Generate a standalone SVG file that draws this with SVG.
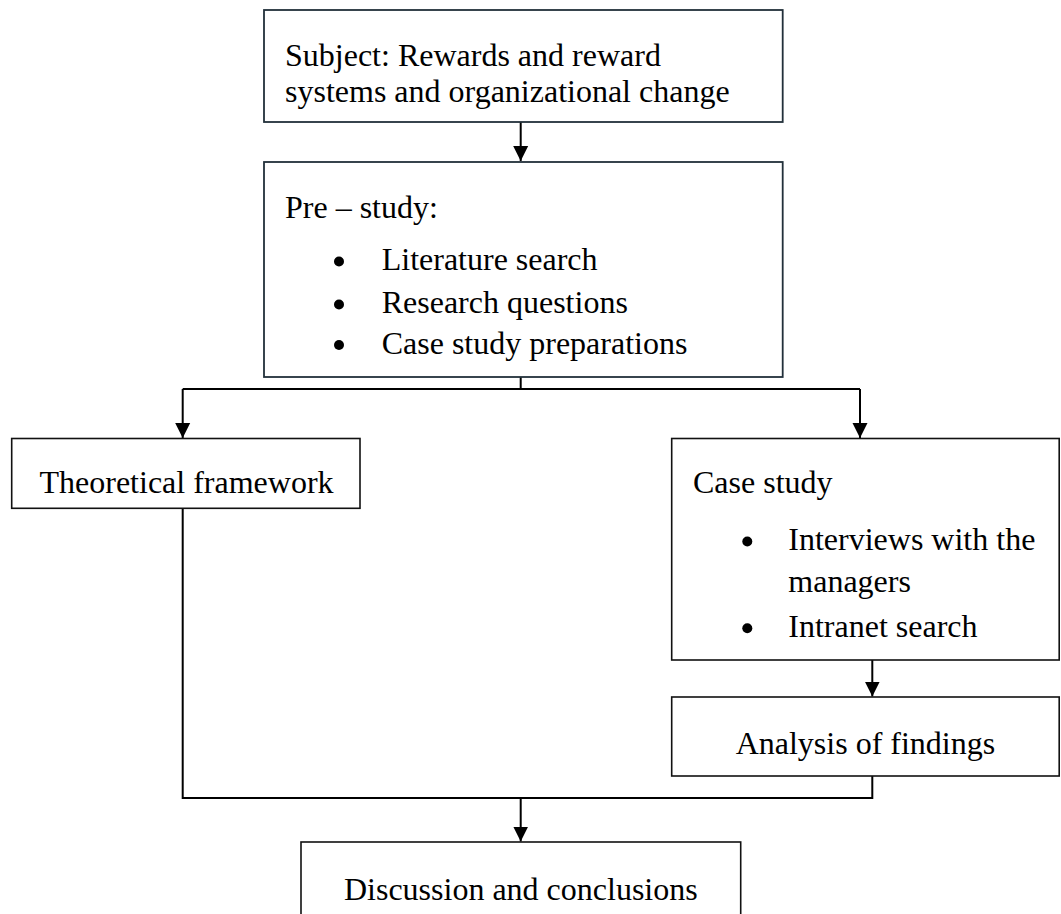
<svg xmlns="http://www.w3.org/2000/svg" width="1061" height="914" viewBox="0 0 1061 914">
<style>
.box{fill:#fff;stroke:#111;stroke-width:1.6}
.box2{fill:#fff;stroke:#22303a;stroke-width:1.8}
.t{font-family:"Liberation Serif","Times New Roman",serif;font-size:32px;fill:#000}
.c{fill:none;stroke:#000;stroke-width:2}
.b{fill:#000}
</style>
<defs>
<marker id="ah" markerUnits="userSpaceOnUse" markerWidth="16" markerHeight="16" viewBox="0 0 16 16" refX="15" refY="8" orient="auto">
<path d="M0,0.5 L15,8 L0,15.5 Z" fill="#000"/>
</marker>
</defs>
<rect width="1061" height="914" fill="#fff"/>
<g id="connectors">
<path class="c" d="M520.7,122 V161" marker-end="url(#ah)"/>
<path class="c" d="M520.7,377 V389 M182.7,389 H860"/>
<path class="c" d="M182.7,389 V438" marker-end="url(#ah)"/>
<path class="c" d="M860,389 V438" marker-end="url(#ah)"/>
<path class="c" d="M872.3,660 V696.5" marker-end="url(#ah)"/>
<path class="c" d="M182.7,508 V798 H872.3 V776"/>
<path class="c" d="M520.7,798 V841.5" marker-end="url(#ah)"/>
</g>
<g id="subject">
<rect class="box2" x="264" y="10" width="518.7" height="112"/>
<text class="t" x="285" y="66">Subject: Rewards and reward</text>
<text class="t" x="285" y="101.5">systems and organizational change</text>
</g>
<g id="prestudy">
<rect class="box2" x="264" y="162" width="518.7" height="215"/>
<text class="t" x="285" y="218">Pre – study:</text>
<circle class="b" cx="339" cy="261.5" r="5"/>
<text class="t" x="381.7" y="270">Literature search</text>
<circle class="b" cx="339" cy="304.5" r="5"/>
<text class="t" x="381.7" y="313">Research questions</text>
<circle class="b" cx="339" cy="345" r="5"/>
<text class="t" x="381.7" y="353.5">Case study preparations</text>
</g>
<g id="theory">
<rect class="box" x="11.7" y="438.5" width="348.3" height="69.8"/>
<text class="t" x="39.5" y="493">Theoretical framework</text>
</g>
<g id="casestudy">
<rect class="box" x="671.7" y="438.5" width="387.5" height="221.5"/>
<text class="t" x="693" y="493.3">Case study</text>
<circle class="b" cx="747.3" cy="541.5" r="5"/>
<text class="t" x="788.3" y="550">Interviews with the</text>
<text class="t" x="788.3" y="591.7">managers</text>
<circle class="b" cx="747.3" cy="628.2" r="5"/>
<text class="t" x="788.3" y="636.7">Intranet search</text>
</g>
<g id="analysis">
<rect class="box" x="671.7" y="697" width="387.5" height="79"/>
<text class="t" x="865.4" y="754" text-anchor="middle">Analysis of findings</text>
</g>
<g id="discussion">
<rect class="box" x="301" y="842" width="439.7" height="80"/>
<text class="t" x="520.8" y="900" text-anchor="middle">Discussion and conclusions</text>
</g>
</svg>
